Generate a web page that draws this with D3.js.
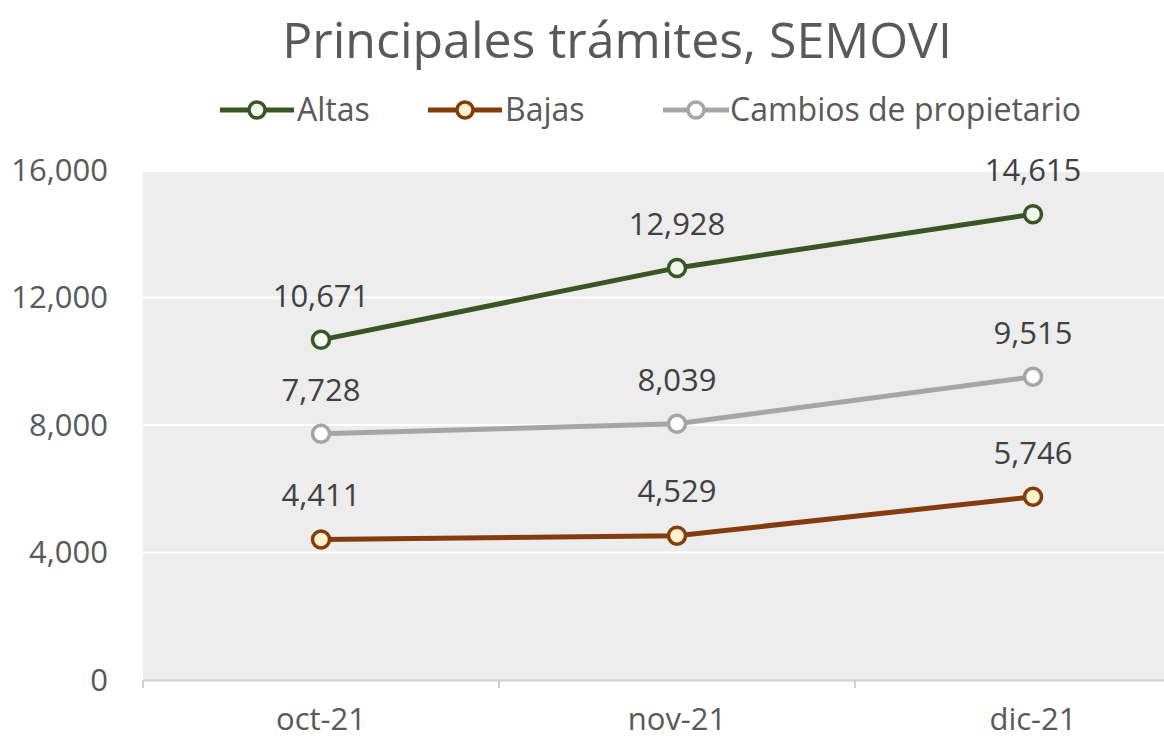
<!DOCTYPE html>
<html>
<head>
<meta charset="utf-8">
<script src="https://cdn.jsdelivr.net/npm/d3@7"></script>
<style>
  body { margin: 0; background: #fff; }
  text { font-family: "Open Sans", "Noto Sans", sans-serif; }
</style>
</head>
<body>
<div id="chart"></div>
<script>
const WIDTH = 1164;
const HEIGHT = 738;

const months = ["oct-21", "nov-21", "dic-21"];
const altas = [10671, 12928, 14615];
const bajas = [4411, 4529, 5746];
const cambios = [7728, 8039, 9515];
const yTicks = [0, 4000, 8000, 12000, 16000];

const series = [
    { name: "Altas", values: altas, color: "#375623", fill: "#f2f8ee" },
    { name: "Bajas", values: bajas, color: "#843c0c", fill: "#fff2cc" },
    { name: "Cambios de propietario", values: cambios, color: "#a5a5a5", fill: "#ffffff" }
];

const margin = { top: 172, left: 143 };

const svg = d3.select("#chart")
    .append("svg")
    .attr("width", WIDTH)
    .attr("height", HEIGHT);

const x = d3.scaleBand()
    .domain(months)
    .range([margin.left, 1211]);

const y = d3.scaleLinear()
    .domain([0, 16000])
    .range([680, 170]);

// plot background
svg.append("rect")
    .attr("x", margin.left)
    .attr("y", margin.top)
    .attr("width", WIDTH - margin.left)
    .attr("height", y(0) - margin.top)
    .attr("fill", "#ededed");

// gridlines
svg.append("g")
    .selectAll("line")
    .data(yTicks.filter(d => d > 0 && d < 16000))
    .enter()
    .append("line")
    .attr("x1", margin.left)
    .attr("x2", WIDTH)
    .attr("y1", d => y(d))
    .attr("y2", d => y(d))
    .attr("stroke", "#ffffff")
    .attr("stroke-width", 2);

// y axis labels
svg.append("g")
    .selectAll("text")
    .data(yTicks)
    .enter()
    .append("text")
    .attr("x", 108)
    .attr("y", d => y(d))
    .attr("dy", "0.35em")
    .attr("text-anchor", "end")
    .attr("font-size", 31)
    .attr("fill", "#595959")
    .text(d => d3.format(",")(d));

// x axis
const xAxis = svg.append("g")
    .attr("transform", `translate(0, ${y(0)})`)
    .call(d3.axisBottom(x).tickSize(0).tickPadding(28));
xAxis.select(".domain").attr("stroke", "#d0d0d0").attr("stroke-width", 2);
xAxis.selectAll("text")
    .attr("font-size", 31)
    .attr("fill", "#595959")
    .style("font-family", "'Open Sans', 'Noto Sans', sans-serif");

// category boundary ticks
svg.append("g")
    .selectAll("line")
    .data(months)
    .enter()
    .append("line")
    .attr("x1", d => x(d))
    .attr("x2", d => x(d))
    .attr("y1", y(0))
    .attr("y2", y(0) + 8)
    .attr("stroke", "#d0d0d0")
    .attr("stroke-width", 2);

const cx = d => x(d) + x.bandwidth() / 2;

const line = d3.line()
    .x((d, i) => cx(months[i]))
    .y(d => y(d));

series.forEach(s => {
    svg.append("path")
        .datum(s.values)
        .attr("d", line)
        .attr("fill", "none")
        .attr("stroke", s.color)
        .attr("stroke-width", 5);

    svg.append("g")
        .selectAll("circle")
        .data(s.values)
        .enter()
        .append("circle")
        .attr("cx", (d, i) => cx(months[i]))
        .attr("cy", d => y(d))
        .attr("r", 8.5)
        .attr("fill", s.fill)
        .attr("stroke", s.color)
        .attr("stroke-width", 3.5);

    svg.append("g")
        .selectAll("text")
        .data(s.values)
        .enter()
        .append("text")
        .attr("x", (d, i) => cx(months[i]))
        .attr("y", d => y(d) - 44)
        .attr("dy", "0.35em")
        .attr("text-anchor", "middle")
        .attr("font-size", 31)
        .attr("fill", "#404040")
        .text(d => d3.format(",")(d));
});

// title
svg.append("text")
    .attr("x", 617)
    .attr("y", 40)
    .attr("dy", "0.35em")
    .attr("text-anchor", "middle")
    .attr("font-size", 50)
    .attr("fill", "#595959")
    .text("Principales trámites, SEMOVI");

// legend
const legendPos = [220, 428, 663];
const legend = svg.append("g")
    .selectAll("g")
    .data(series)
    .enter()
    .append("g")
    .attr("transform", (d, i) => `translate(${legendPos[i]}, 110)`);

legend.append("line")
    .attr("x1", 0).attr("x2", (d, i) => i === 2 ? 66 : 74)
    .attr("stroke", d => d.color)
    .attr("stroke-width", 5);

legend.append("circle")
    .attr("cx", (d, i) => i === 2 ? 33 : 37)
    .attr("r", 8)
    .attr("fill", d => d.fill)
    .attr("stroke", d => d.color)
    .attr("stroke-width", 3.5);

legend.append("text")
    .attr("x", (d, i) => i === 2 ? 67 : 77)
    .attr("dy", "0.35em")
    .attr("font-size", 32)
    .attr("fill", "#595959")
    .text(d => d.name);
</script>
</body>
</html>
